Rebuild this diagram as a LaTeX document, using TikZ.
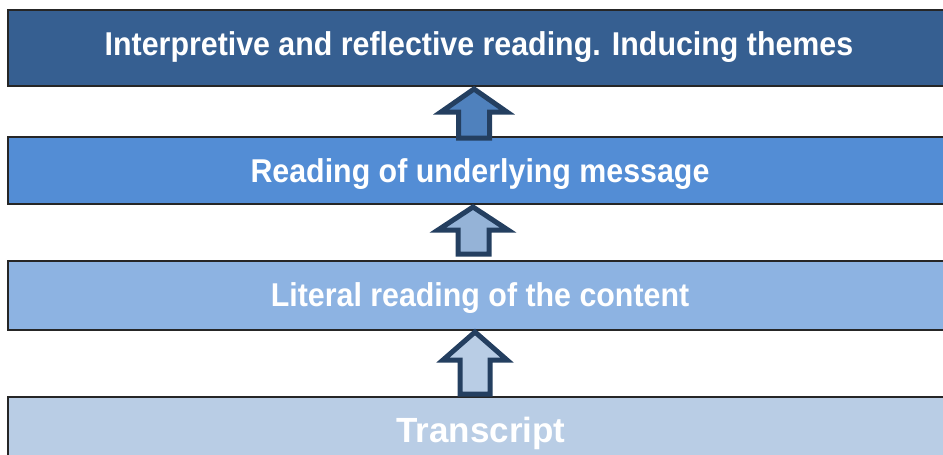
\documentclass[tikz,border=0pt]{standalone}
\usepackage{fontspec}
\setmainfont{Liberation Sans}
\newfontfamily\lbl[FakeStretch=0.92]{Liberation Sans}
\definecolor{boxA}{HTML}{365F91}
\definecolor{boxB}{HTML}{538DD5}
\definecolor{boxC}{HTML}{8DB3E2}
\definecolor{boxD}{HTML}{B9CDE5}
\definecolor{arrline}{HTML}{243F60}
\definecolor{arrA}{HTML}{4F81BD}
\definecolor{arrB}{HTML}{95B3D7}
\definecolor{arrC}{HTML}{B9CDE5}
\begin{document}
\begin{tikzpicture}[x=1pt,y=-1pt,
  layerbox/.style={draw=black!85,line width=1.3pt},
  layertext/.style={text=white,anchor=base,inner sep=0pt,font=\lbl\bfseries\fontsize{33}{38}\selectfont},
  blockarrow/.style={draw=arrline,line width=5pt,line join=miter,miter limit=10}]
\useasboundingbox (0,0) rectangle (943,455);
% layers
\path[layerbox,fill=boxA] (8,10) rectangle (965,86);
\path[layerbox,fill=boxB] (8,137) rectangle (965,204);
\path[layerbox,fill=boxC] (8,261) rectangle (965,330);
\path[layerbox,fill=boxD] (8,397) rectangle (965,475);
% texts
\node[layertext] (t1) at (479,55) {Interpretive and reflective reading. Inducing themes};
\node[layertext] (t2) at (480,182) {Reading of underlying message};
\node[layertext] (t3) at (480,306) {Literal reading of the content};
\node[layertext,font=\bfseries\fontsize{35}{40}\selectfont] (t4) at (481,442) {Transcript};
% arrows
\path[blockarrow,fill=arrA] (474,89) -- (507,112) -- (489.5,112) -- (489.5,138) -- (458.5,138) -- (458.5,112) -- (441,112) -- cycle;
\path[blockarrow,fill=arrB] (473,207) -- (508,230) -- (489,230) -- (489,254) -- (458,254) -- (458,230) -- (438,230) -- cycle;
\path[blockarrow,fill=arrC] (475,332) -- (507,360) -- (490,360) -- (490,394) -- (460,394) -- (460,360) -- (443,360) -- cycle;
\end{tikzpicture}
\end{document}
